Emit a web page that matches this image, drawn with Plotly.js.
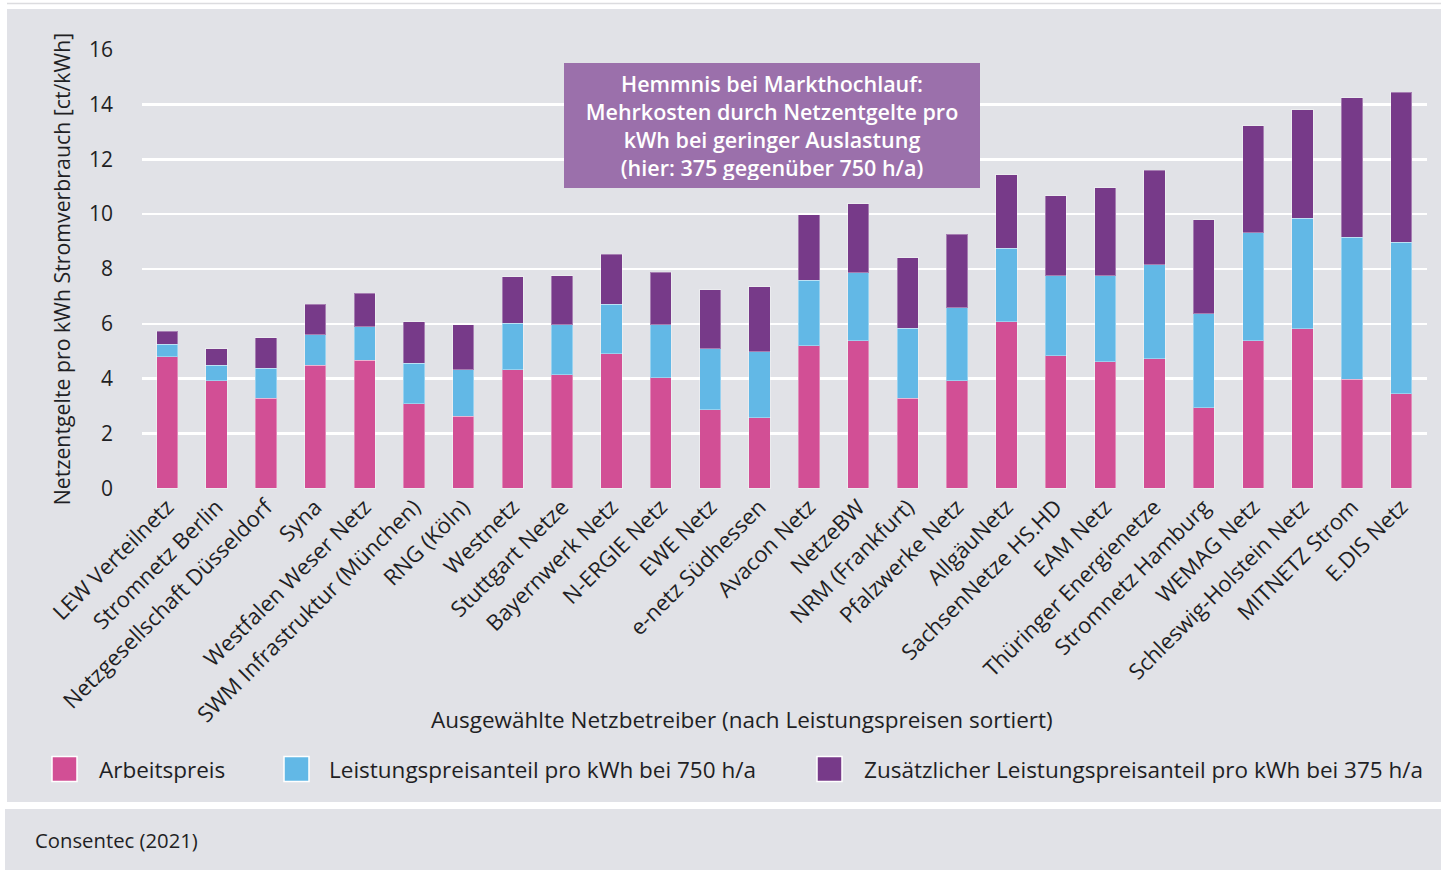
<!DOCTYPE html>
<html><head><meta charset="utf-8">
<script src="https://cdn.plot.ly/plotly-3.0.1.min.js"></script>
<style>html,body{margin:0;padding:0;background:#fff}#chart{width:1441px;height:870px}</style>
</head><body><div id="chart"></div>
<script>
const operators = ["LEW Verteilnetz","Stromnetz Berlin","Netzgesellschaft Düsseldorf","Syna","Westfalen Weser Netz","SWM Infrastruktur (München)","RNG (Köln)","Westnetz","Stuttgart Netze","Bayernwerk Netz","N-ERGIE Netz","EWE Netz","e-netz Südhessen","Avacon Netz","NetzeBW","NRM (Frankfurt)","Pfalzwerke Netz","AllgäuNetz","SachsenNetze HS.HD","EAM Netz","Thüringer Energienetze","Stromnetz Hamburg","WEMAG Netz","Schleswig-Holstein Netz","MITNETZ Strom","E.DIS Netz"];
const arbeitspreis = [4.80,3.92,3.28,4.49,4.68,3.09,2.64,4.33,4.15,4.91,4.04,2.87,2.58,5.20,5.38,3.28,3.92,6.07,4.84,4.62,4.73,2.94,5.38,5.83,3.99,3.46];
const leistung750 = [0.46,0.58,1.11,1.12,1.22,1.48,1.69,1.69,1.81,1.81,1.92,2.22,2.40,2.39,2.49,2.56,2.67,2.68,2.92,3.14,3.43,3.42,3.95,4.02,5.16,5.52];
const zusatz375 = [0.47,0.59,1.11,1.11,1.22,1.50,1.63,1.69,1.80,1.81,1.92,2.15,2.38,2.38,2.51,2.57,2.68,2.68,2.91,3.20,3.44,3.43,3.90,3.96,5.10,5.47];
const seriesNames = ["Arbeitspreis","Leistungspreisanteil pro kWh bei 750 h/a","Zusätzlicher Leistungspreisanteil pro kWh bei 375 h/a"];
const yTickVals = [0,2,4,6,8,10,12,14,16];
const yTitle = "Netzentgelte pro kWh Stromverbrauch [ct/kWh]";
const xTitle = "Ausgewählte Netzbetreiber (nach Leistungspreisen sortiert)";
const boxText = "Hemmnis bei Markthochlauf:<br>Mehrkosten durch Netzentgelte pro<br>kWh bei geringer Auslastung<br>(hier: 375 gegenüber 750 h/a)";
const sourceText = "Consentec (2021)";

const colors = ["#d24f95","#62b8e6","#773a89"];
const FONT = "Open Sans, sans-serif";
const TXT = "#1f1f24";
const W = 1441, H = 870;
const M = {l:142, r:14, t:49, b:381};
const PW = W - M.l - M.r, PH = H - M.t - M.b;
const px2x = p => (p - M.l) / PW;
const py2y = p => (H - M.b - p) / PH;

const series = [arbeitspreis, leistung750, zusatz375];
const traces = series.map((vals, i) => ({
  type: "bar", x: operators, y: vals, name: seriesNames[i],
  marker: {color: colors[i], line: {color: "rgba(255,255,255,0.35)", width: 1}},
  hoverinfo: "x+y+name", showlegend: false
}));

const shapes = [
  {type:"line", xref:"paper", yref:"paper", x0:px2x(7), x1:px2x(1441), y0:py2y(3.5), y1:py2y(3.5), line:{color:"#dcdcdf", width:1.5}, layer:"below"},
  {type:"rect", xref:"paper", yref:"paper", x0:px2x(7), x1:px2x(1441), y0:py2y(802), y1:py2y(9), fillcolor:"#e1e2e7", line:{width:0}, layer:"below"},
  {type:"rect", xref:"paper", yref:"paper", x0:px2x(5), x1:px2x(1441), y0:py2y(870), y1:py2y(809), fillcolor:"#e1e2e7", line:{width:0}, layer:"below"}
];
const legendSwatchX = [52, 284, 817];
const legendTextX = [97, 327, 862];
const legendY = 769;
const annotations = [];
seriesNames.forEach((n, i) => {
  shapes.push({type:"rect", xref:"paper", yref:"paper", x0:px2x(legendSwatchX[i]), x1:px2x(legendSwatchX[i]+25), y0:py2y(legendY+12.5), y1:py2y(legendY-12.5), fillcolor:colors[i], line:{color:"#ffffff", width:1.5}});
  annotations.push({xref:"paper", yref:"paper", x:px2x(legendTextX[i]), y:py2y(legendY), xanchor:"left", yanchor:"middle", text:n, showarrow:false, font:{family:FONT, size:22.5, color:TXT}});
});
annotations.push({xref:"paper", yref:"paper", x:px2x(741.5), y:py2y(719), xanchor:"center", yanchor:"middle", text:xTitle, showarrow:false, font:{family:FONT, size:22.5, color:TXT}});
annotations.push({xref:"paper", yref:"paper", x:px2x(33), y:py2y(840), xanchor:"left", yanchor:"middle", text:sourceText, showarrow:false, font:{family:FONT, size:20.3, color:TXT}});
annotations.push({xref:"paper", yref:"paper", x:px2x(772), y:py2y(125.5), xanchor:"center", yanchor:"middle", text:boxText, showarrow:false, align:"center",
  bgcolor:"#9b70ab", borderpad:8, borderwidth:0, width:400, height:109, font:{family:FONT, size:21.5, color:"#ffffff", weight:600}});

const layout = {
  width: W, height: H, margin: M,
  paper_bgcolor: "#ffffff", plot_bgcolor: "rgba(0,0,0,0)",
  barmode: "stack", bargap: 0.57,
  font: {family: FONT, size: 19, color: TXT},
  xaxis: {type:"category", range:[-0.51, 25.52], tickangle:-45, showgrid:false, zeroline:false, showline:false, ticks:"", tickfont:{family:FONT, size:22, color:TXT}, fixedrange:true},
  yaxis: {range:[-0.02, 16.02], tickvals:yTickVals, gridcolor:"#ffffff", gridwidth:2.5, zeroline:false, showline:false, ticks:"", ticklabelstandoff:28,
    tickfont:{family:FONT, size:21, color:TXT}, title:{text:yTitle, font:{family:FONT, size:21.3, color:TXT}, standoff:12}, fixedrange:true},
  shapes: shapes, annotations: annotations, showlegend: false
};
Plotly.newPlot("chart", traces, layout, {displayModeBar:false, staticPlot:true});
</script></body></html>
